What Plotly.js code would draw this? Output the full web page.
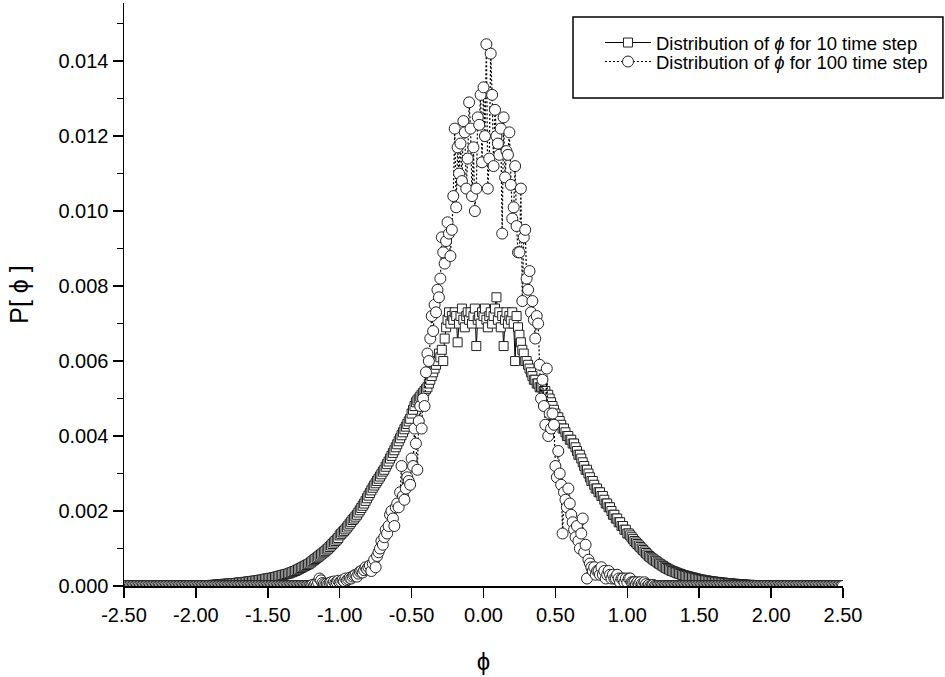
<!DOCTYPE html>
<html>
<head>
<meta charset="utf-8">
<script src="https://cdn.plot.ly/plotly-3.0.1.min.js"></script>
<style>html,body{margin:0;padding:0;background:#fff;}#chart{width:945px;height:677px;}</style>
</head>
<body>
<div id="chart"></div>
<script>
// phi bin centres
const phi = [
-2.5,-2.49,-2.48,-2.47,-2.46,-2.45,-2.44,-2.43,-2.42,-2.41,
-2.4,-2.39,-2.38,-2.37,-2.36,-2.35,-2.34,-2.33,-2.32,-2.31,
-2.3,-2.29,-2.28,-2.27,-2.26,-2.25,-2.24,-2.23,-2.22,-2.21,
-2.2,-2.19,-2.18,-2.17,-2.16,-2.15,-2.14,-2.13,-2.12,-2.11,
-2.1,-2.09,-2.08,-2.07,-2.06,-2.05,-2.04,-2.03,-2.02,-2.01,
-2,-1.99,-1.98,-1.97,-1.96,-1.95,-1.94,-1.93,-1.92,-1.91,
-1.9,-1.89,-1.88,-1.87,-1.86,-1.85,-1.84,-1.83,-1.82,-1.81,
-1.8,-1.79,-1.78,-1.77,-1.76,-1.75,-1.74,-1.73,-1.72,-1.71,
-1.7,-1.69,-1.68,-1.67,-1.66,-1.65,-1.64,-1.63,-1.62,-1.61,
-1.6,-1.59,-1.58,-1.57,-1.56,-1.55,-1.54,-1.53,-1.52,-1.51,
-1.5,-1.49,-1.48,-1.47,-1.46,-1.45,-1.44,-1.43,-1.42,-1.41,
-1.4,-1.39,-1.38,-1.37,-1.36,-1.35,-1.34,-1.33,-1.32,-1.31,
-1.3,-1.29,-1.28,-1.27,-1.26,-1.25,-1.24,-1.23,-1.22,-1.21,
-1.2,-1.19,-1.18,-1.17,-1.16,-1.15,-1.14,-1.13,-1.12,-1.11,
-1.1,-1.09,-1.08,-1.07,-1.06,-1.05,-1.04,-1.03,-1.02,-1.01,
-1,-0.99,-0.98,-0.97,-0.96,-0.95,-0.94,-0.93,-0.92,-0.91,
-0.9,-0.89,-0.88,-0.87,-0.86,-0.85,-0.84,-0.83,-0.82,-0.81,
-0.8,-0.79,-0.78,-0.77,-0.76,-0.75,-0.74,-0.73,-0.72,-0.71,
-0.7,-0.69,-0.68,-0.67,-0.66,-0.65,-0.64,-0.63,-0.62,-0.61,
-0.6,-0.59,-0.58,-0.57,-0.56,-0.55,-0.54,-0.53,-0.52,-0.51,
-0.5,-0.49,-0.48,-0.47,-0.46,-0.45,-0.44,-0.43,-0.42,-0.41,
-0.4,-0.39,-0.38,-0.37,-0.36,-0.35,-0.34,-0.33,-0.32,-0.31,
-0.3,-0.29,-0.28,-0.27,-0.26,-0.25,-0.24,-0.23,-0.22,-0.21,
-0.2,-0.19,-0.18,-0.17,-0.16,-0.15,-0.14,-0.13,-0.12,-0.11,
-0.1,-0.09,-0.08,-0.07,-0.06,-0.05,-0.04,-0.03,-0.02,-0.01,
0,0.01,0.02,0.03,0.04,0.05,0.06,0.07,0.08,0.09,
0.1,0.11,0.12,0.13,0.14,0.15,0.16,0.17,0.18,0.19,
0.2,0.21,0.22,0.23,0.24,0.25,0.26,0.27,0.28,0.29,
0.3,0.31,0.32,0.33,0.34,0.35,0.36,0.37,0.38,0.39,
0.4,0.41,0.42,0.43,0.44,0.45,0.46,0.47,0.48,0.49,
0.5,0.51,0.52,0.53,0.54,0.55,0.56,0.57,0.58,0.59,
0.6,0.61,0.62,0.63,0.64,0.65,0.66,0.67,0.68,0.69,
0.7,0.71,0.72,0.73,0.74,0.75,0.76,0.77,0.78,0.79,
0.8,0.81,0.82,0.83,0.84,0.85,0.86,0.87,0.88,0.89,
0.9,0.91,0.92,0.93,0.94,0.95,0.96,0.97,0.98,0.99,
1,1.01,1.02,1.03,1.04,1.05,1.06,1.07,1.08,1.09,
1.1,1.11,1.12,1.13,1.14,1.15,1.16,1.17,1.18,1.19,
1.2,1.21,1.22,1.23,1.24,1.25,1.26,1.27,1.28,1.29,
1.3,1.31,1.32,1.33,1.34,1.35,1.36,1.37,1.38,1.39,
1.4,1.41,1.42,1.43,1.44,1.45,1.46,1.47,1.48,1.49,
1.5,1.51,1.52,1.53,1.54,1.55,1.56,1.57,1.58,1.59,
1.6,1.61,1.62,1.63,1.64,1.65,1.66,1.67,1.68,1.69,
1.7,1.71,1.72,1.73,1.74,1.75,1.76,1.77,1.78,1.79,
1.8,1.81,1.82,1.83,1.84,1.85,1.86,1.87,1.88,1.89,
1.9,1.91,1.92,1.93,1.94,1.95,1.96,1.97,1.98,1.99,
2,2.01,2.02,2.03,2.04,2.05,2.06,2.07,2.08,2.09,
2.1,2.11,2.12,2.13,2.14,2.15,2.16,2.17,2.18,2.19,
2.2,2.21,2.22,2.23,2.24,2.25,2.26,2.27,2.28,2.29,
2.3,2.31,2.32,2.33,2.34,2.35,2.36,2.37,2.38,2.39,
2.4,2.41,2.42,2.43,2.44,2.45,2.46,2.47,2.48,2.49,
2.5
];

// P[phi] after 10 time steps
const p10 = [
0,0,0,0,0,0,0,0,0,0,
0,0,0,0,0,0,0,0,0,0,
0,0,0,0,0,0,0,0,0,0,
0,0,0,0,0,0,0,0,0,0,
0,0,0,0,0,0,0,0,0,0,
0,0,0,0,0,0,0,0,0,0,
0.00002,0.00003,0.00003,0.00003,0.00004,0.00004,0.00004,0.00005,0.00005,0.00005,
0.00006,0.00006,0.00006,0.00007,0.00007,0.00007,0.00008,0.00008,0.00008,0.00009,
0.00009,0.0001,0.0001,0.0001,0.00011,0.00011,0.00012,0.00012,0.00013,0.00013,
0.00014,0.00014,0.00015,0.00015,0.00016,0.00017,0.00017,0.00018,0.00019,0.0002,
0.0002,0.00021,0.00022,0.00022,0.00023,0.00024,0.00025,0.00026,0.00027,0.00028,
0.00029,0.0003,0.00031,0.00032,0.00033,0.00034,0.00036,0.00037,0.00039,0.0004,
0.00042,0.00044,0.00046,0.00048,0.0005,0.00052,0.00054,0.00056,0.00058,0.0006,
0.00063,0.00066,0.00069,0.00072,0.00075,0.00078,0.00081,0.00084,0.00087,0.0009,
0.00093,0.00097,0.001,0.00104,0.00108,0.00112,0.00116,0.0012,0.00124,0.00128,
0.00135,0.00139,0.00143,0.00147,0.00151,0.00156,0.00161,0.00166,0.00171,0.00176,
0.0018,0.00185,0.0019,0.00196,0.00202,0.00208,0.00214,0.0022,0.00227,0.00234,
0.00241,0.00248,0.00255,0.00262,0.00268,0.00274,0.0028,0.00286,0.00292,0.00298,
0.00305,0.0031,0.00318,0.00325,0.00332,0.0034,0.00347,0.00355,0.00362,0.0037,
0.00378,0.00386,0.00394,0.00402,0.0041,0.00418,0.00425,0.00432,0.00439,0.00446,
0.0046,0.0047,0.0048,0.0049,0.00495,0.005,0.00505,0.0051,0.00515,0.0052,
0.00525,0.0053,0.0054,0.0055,0.0056,0.0057,0.0058,0.0059,0.006,0.0062,
0.0061,0.0063,0.006,0.0066,0.0069,0.0071,0.0073,0.007,0.0072,0.0071,
0.0073,0.0072,0.0065,0.007,0.0072,0.0074,0.0071,0.0069,0.0072,0.0073,
0.0071,0.0073,0.007,0.0072,0.0074,0.0064,0.0071,0.0072,0.007,0.0073,
0.0072,0.0074,0.0071,0.0069,0.0072,0.0073,0.007,0.0072,0.0074,0.0077,
0.0071,0.0073,0.0069,0.0072,0.0064,0.0071,0.0073,0.007,0.0072,0.0071,
0.0073,0.007,0.006,0.0072,0.0069,0.0067,0.0065,0.0063,0.0062,0.006,
0.006,0.0059,0.0058,0.0057,0.0056,0.0055,0.0055,0.0054,0.0054,0.0053,
0.0053,0.0053,0.0052,0.0052,0.0051,0.0051,0.005,0.0049,0.0048,0.0047,
0.0046,0.0045,0.0045,0.0044,0.0043,0.0042,0.0042,0.0041,0.004,0.004,
0.0039,0.0039,0.0038,0.0038,0.0037,0.0036,0.0035,0.0035,0.0034,0.0033,
0.0032,0.0031,0.0031,0.003,0.0029,0.0028,0.0028,0.0027,0.0026,0.0026,
0.0025,0.0025,0.0024,0.0024,0.0023,0.0022,0.0022,0.0021,0.0021,0.002,
0.0019,0.0019,0.0018,0.0018,0.0017,0.0017,0.0016,0.0016,0.0015,0.0015,
0.0014,0.0014,0.00135,0.0013,0.00125,0.0012,0.00116,0.00112,0.00108,0.00104,
0.001,0.00096,0.00092,0.00088,0.00084,0.0008,0.00077,0.00074,0.00071,0.00068,
0.00066,0.00063,0.0006,0.00058,0.00055,0.00053,0.0005,0.00048,0.00046,0.00044,
0.00042,0.0004,0.00039,0.00037,0.00036,0.00034,0.00033,0.00032,0.0003,0.00029,
0.00028,0.00027,0.00026,0.00025,0.00024,0.00023,0.00022,0.00021,0.0002,0.00019,
0.00018,0.00017,0.00017,0.00016,0.00015,0.00015,0.00014,0.00013,0.00013,0.00012,
0.00012,0.00011,0.00011,0.0001,0.0001,0.00009,0.00009,0.00009,0.00008,0.00008,
0.00007,0.00007,0.00007,0.00006,0.00006,0.00006,0.00005,0.00005,0.00005,0.00004,
0.00004,0.00004,0.00004,0.00003,0.00003,0.00003,0.00003,0.00002,0.00002,0.00002,
0,0,0,0,0,0,0,0,0,0,
0,0,0,0,0,0,0,0,0,0,
0,0,0,0,0,0,0,0,0,0,
0,0,0,0,0,0,0,0,0,0,
0,0,0,0,0,0,0,0,0,0,
0,0,0,0,0,0,0,0,0,0,
0
];

// P[phi] after 100 time steps
const p100 = [
0,0,0,0,0,0,0,0,0,0,
0,0,0,0,0,0,0,0,0,0,
0,0,0,0,0,0,0,0,0,0,
0,0,0,0,0,0,0,0,0,0,
0,0,0,0,0,0,0,0,0,0,
0,0,0,0,0,0,0,0,0,0,
0,0,0,0,0,0,0,0,0,0,
0,0,0,0,0,0,0,0,0,0,
0,0,0,0,0,0,0,0,0,0,
0,0,0,0,0,0,0,0,0,0,
0,0,0,0,0,0,0,0,0,0,
0,0,0,0,0,0,0,0,0,0,
0,0,0,0,0,0,0,0,0,0,
0,0.00003,0,0.00005,0,0.0001,0.0002,0.00015,0.00008,0.00005,
0.00003,0.00006,0.00004,0.00008,0.0001,0.00006,0.00012,0.00008,0.0001,0.00014,
0.0001,0.00012,0.00016,0.00013,0.0002,0.00015,0.00018,0.00022,0.0002,0.00025,
0.00028,0.0003,0.00025,0.00033,0.00038,0.0004,0.00036,0.00042,0.0005,0.00045,
0.0005,0.00055,0.0004,0.0006,0.0007,0.0005,0.0008,0.0009,0.001,0.0012,
0.0011,0.0013,0.0015,0.0014,0.0016,0.0019,0.002,0.0018,0.0016,0.0021,
0.0022,0.0021,0.0025,0.0032,0.0024,0.0023,0.0026,0.0029,0.0028,0.0027,
0.0034,0.0032,0.0042,0.0038,0.0031,0.0044,0.0048,0.0042,0.005,0.0048,
0.0057,0.0062,0.006,0.0066,0.0072,0.0068,0.0075,0.0073,0.0079,0.0077,
0.0082,0.0093,0.0089,0.0086,0.0092,0.0097,0.0094,0.0088,0.0095,0.0104,
0.0122,0.0101,0.0117,0.011,0.0118,0.0108,0.0124,0.0121,0.0106,0.0114,
0.0129,0.0122,0.0104,0.0117,0.01,0.0106,0.0125,0.0123,0.0131,0.0113,
0.0133,0.012,0.01445,0.0106,0.0114,0.0142,0.0131,0.0112,0.0127,0.012,
0.0118,0.0115,0.0122,0.0094,0.0125,0.0109,0.0116,0.0115,0.0121,0.0107,
0.0098,0.0101,0.0112,0.0096,0.0089,0.0089,0.0106,0.0076,0.0093,0.0095,
0.0082,0.0079,0.0084,0.0073,0.0076,0.0071,0.0066,0.0072,0.007,0.0059,
0.005,0.0055,0.0048,0.0043,0.0058,0.004,0.0046,0.0042,0.0046,0.0043,
0.0032,0.0029,0.0036,0.003,0.0027,0.0014,0.0025,0.0023,0.0021,0.0026,
0.0022,0.0019,0.0017,0.0015,0.0013,0.0016,0.0012,0.001,0.0014,0.0018,
0.0009,0.0011,0.0002,0.0007,0.0006,0.0005,0.0004,0.0005,0.0003,0.0004,
0.0004,0.0003,0.0005,0.0003,0.0004,0.0002,0.0003,0.0004,0.0003,0.0002,
0.0003,0.0002,0.0002,0.0003,0.0002,0.0001,0.0002,0.0002,0.0001,0.0002,
0.0001,0.0002,0.0002,0.0001,0.0001,0.0001,0.00005,0.0001,0.00005,0.0001,
0.00005,0.00003,0.0001,0.00005,0,0.00003,0,0,0.00003,0,
0,0,0,0,0,0,0,0,0,0,
0,0,0,0,0,0,0,0,0,0,
0,0,0,0,0,0,0,0,0,0,
0,0,0,0,0,0,0,0,0,0,
0,0,0,0,0,0,0,0,0,0,
0,0,0,0,0,0,0,0,0,0,
0,0,0,0,0,0,0,0,0,0,
0,0,0,0,0,0,0,0,0,0,
0,0,0,0,0,0,0,0,0,0,
0,0,0,0,0,0,0,0,0,0,
0,0,0,0,0,0,0,0,0,0,
0,0,0,0,0,0,0,0,0,0,
0,0,0,0,0,0,0,0,0,0,
0
];

const seriesNames = [
  'Distribution of <i>\u03D5</i> for 10 time step',
  'Distribution of <i>\u03D5</i> for 100 time step'
];
const xTickVals = [-2.5,-2,-1.5,-1,-0.5,0,0.5,1,1.5,2,2.5];
const xTickText = ['-2.50','-2.00','-1.50','-1.00','-0.50','0.00','0.50','1.00','1.50','2.00','2.50'];
const yTickVals = [0,0.002,0.004,0.006,0.008,0.010,0.012,0.014];
const yTickText = ['0.000','0.002','0.004','0.006','0.008','0.010','0.012','0.014'];

const FONT = 'Liberation Sans, Arial, Helvetica, sans-serif';

const traces = [
  {
    x: phi, y: p10, name: seriesNames[0], type: 'scatter', mode: 'lines+markers',
    line: {color: '#000', width: 1},
    marker: {symbol: 'square', size: 9, color: '#fff', line: {color: '#222', width: 1}},
    legend: 'legend'
  },
  {
    x: phi, y: p100, name: seriesNames[1], type: 'scatter', mode: 'lines+markers',
    line: {color: '#000', width: 1.2, dash: '2px,2px'},
    marker: {symbol: 'circle', size: 11, color: '#fff', line: {color: '#222', width: 1}},
    legend: 'legend2'
  }
];

const layout = {
  width: 945, height: 677,
  margin: {l: 124, r: 102, t: 3, b: 91, pad: 0},
  paper_bgcolor: '#fff', plot_bgcolor: '#fff',
  font: {family: FONT, color: '#000'},
  showlegend: true,
  xaxis: {
    range: [-2.5, 2.5], tickmode: 'array', tickvals: xTickVals, ticktext: xTickText,
    ticks: 'outside', ticklen: 10, tickwidth: 1.5, tickcolor: '#000',
    showline: true, linewidth: 1.5, linecolor: '#000',
    showgrid: false, zeroline: false,
    tickfont: {size: 20, family: FONT},
    title: {text: '\u03D5', font: {size: 24, family: FONT}, standoff: 28}
  },
  yaxis: {
    range: [0, 0.01555], tickmode: 'array', tickvals: yTickVals, ticktext: yTickText,
    ticks: 'outside', ticklen: 10, tickwidth: 1.5, tickcolor: '#000',
    minor: {dtick: 0.001, tick0: 0, ticks: 'outside', ticklen: 6, tickwidth: 1.5, tickcolor: '#000', showgrid: false},
    showline: true, linewidth: 1.5, linecolor: '#000',
    showgrid: false, zeroline: false,
    tickfont: {size: 20, family: FONT},
    title: {text: 'P[ \u03D5 ]', font: {size: 25, family: FONT}, standoff: 22}
  },
  legend: {
    x: 0.662, y: 0.9314, xanchor: 'left', yanchor: 'middle',
    bgcolor: 'rgba(0,0,0,0)', borderwidth: 0, itemwidth: 46,
    font: {size: 18.5, family: FONT}
  },
  legend2: {
    x: 0.662, y: 0.8988, xanchor: 'left', yanchor: 'middle',
    bgcolor: 'rgba(0,0,0,0)', borderwidth: 0, itemwidth: 46,
    font: {size: 18.5, family: FONT}
  },
  shapes: [{
    type: 'rect', xref: 'paper', yref: 'paper',
    x0: 0.6245, x1: 1.139, y0: 0.837, y1: 0.976,
    line: {color: '#000', width: 1.5}, fillcolor: 'rgba(0,0,0,0)', layer: 'above'
  }]
};

Plotly.newPlot('chart', traces, layout, {displayModeBar: false, staticPlot: true});
</script>
</body>
</html>
